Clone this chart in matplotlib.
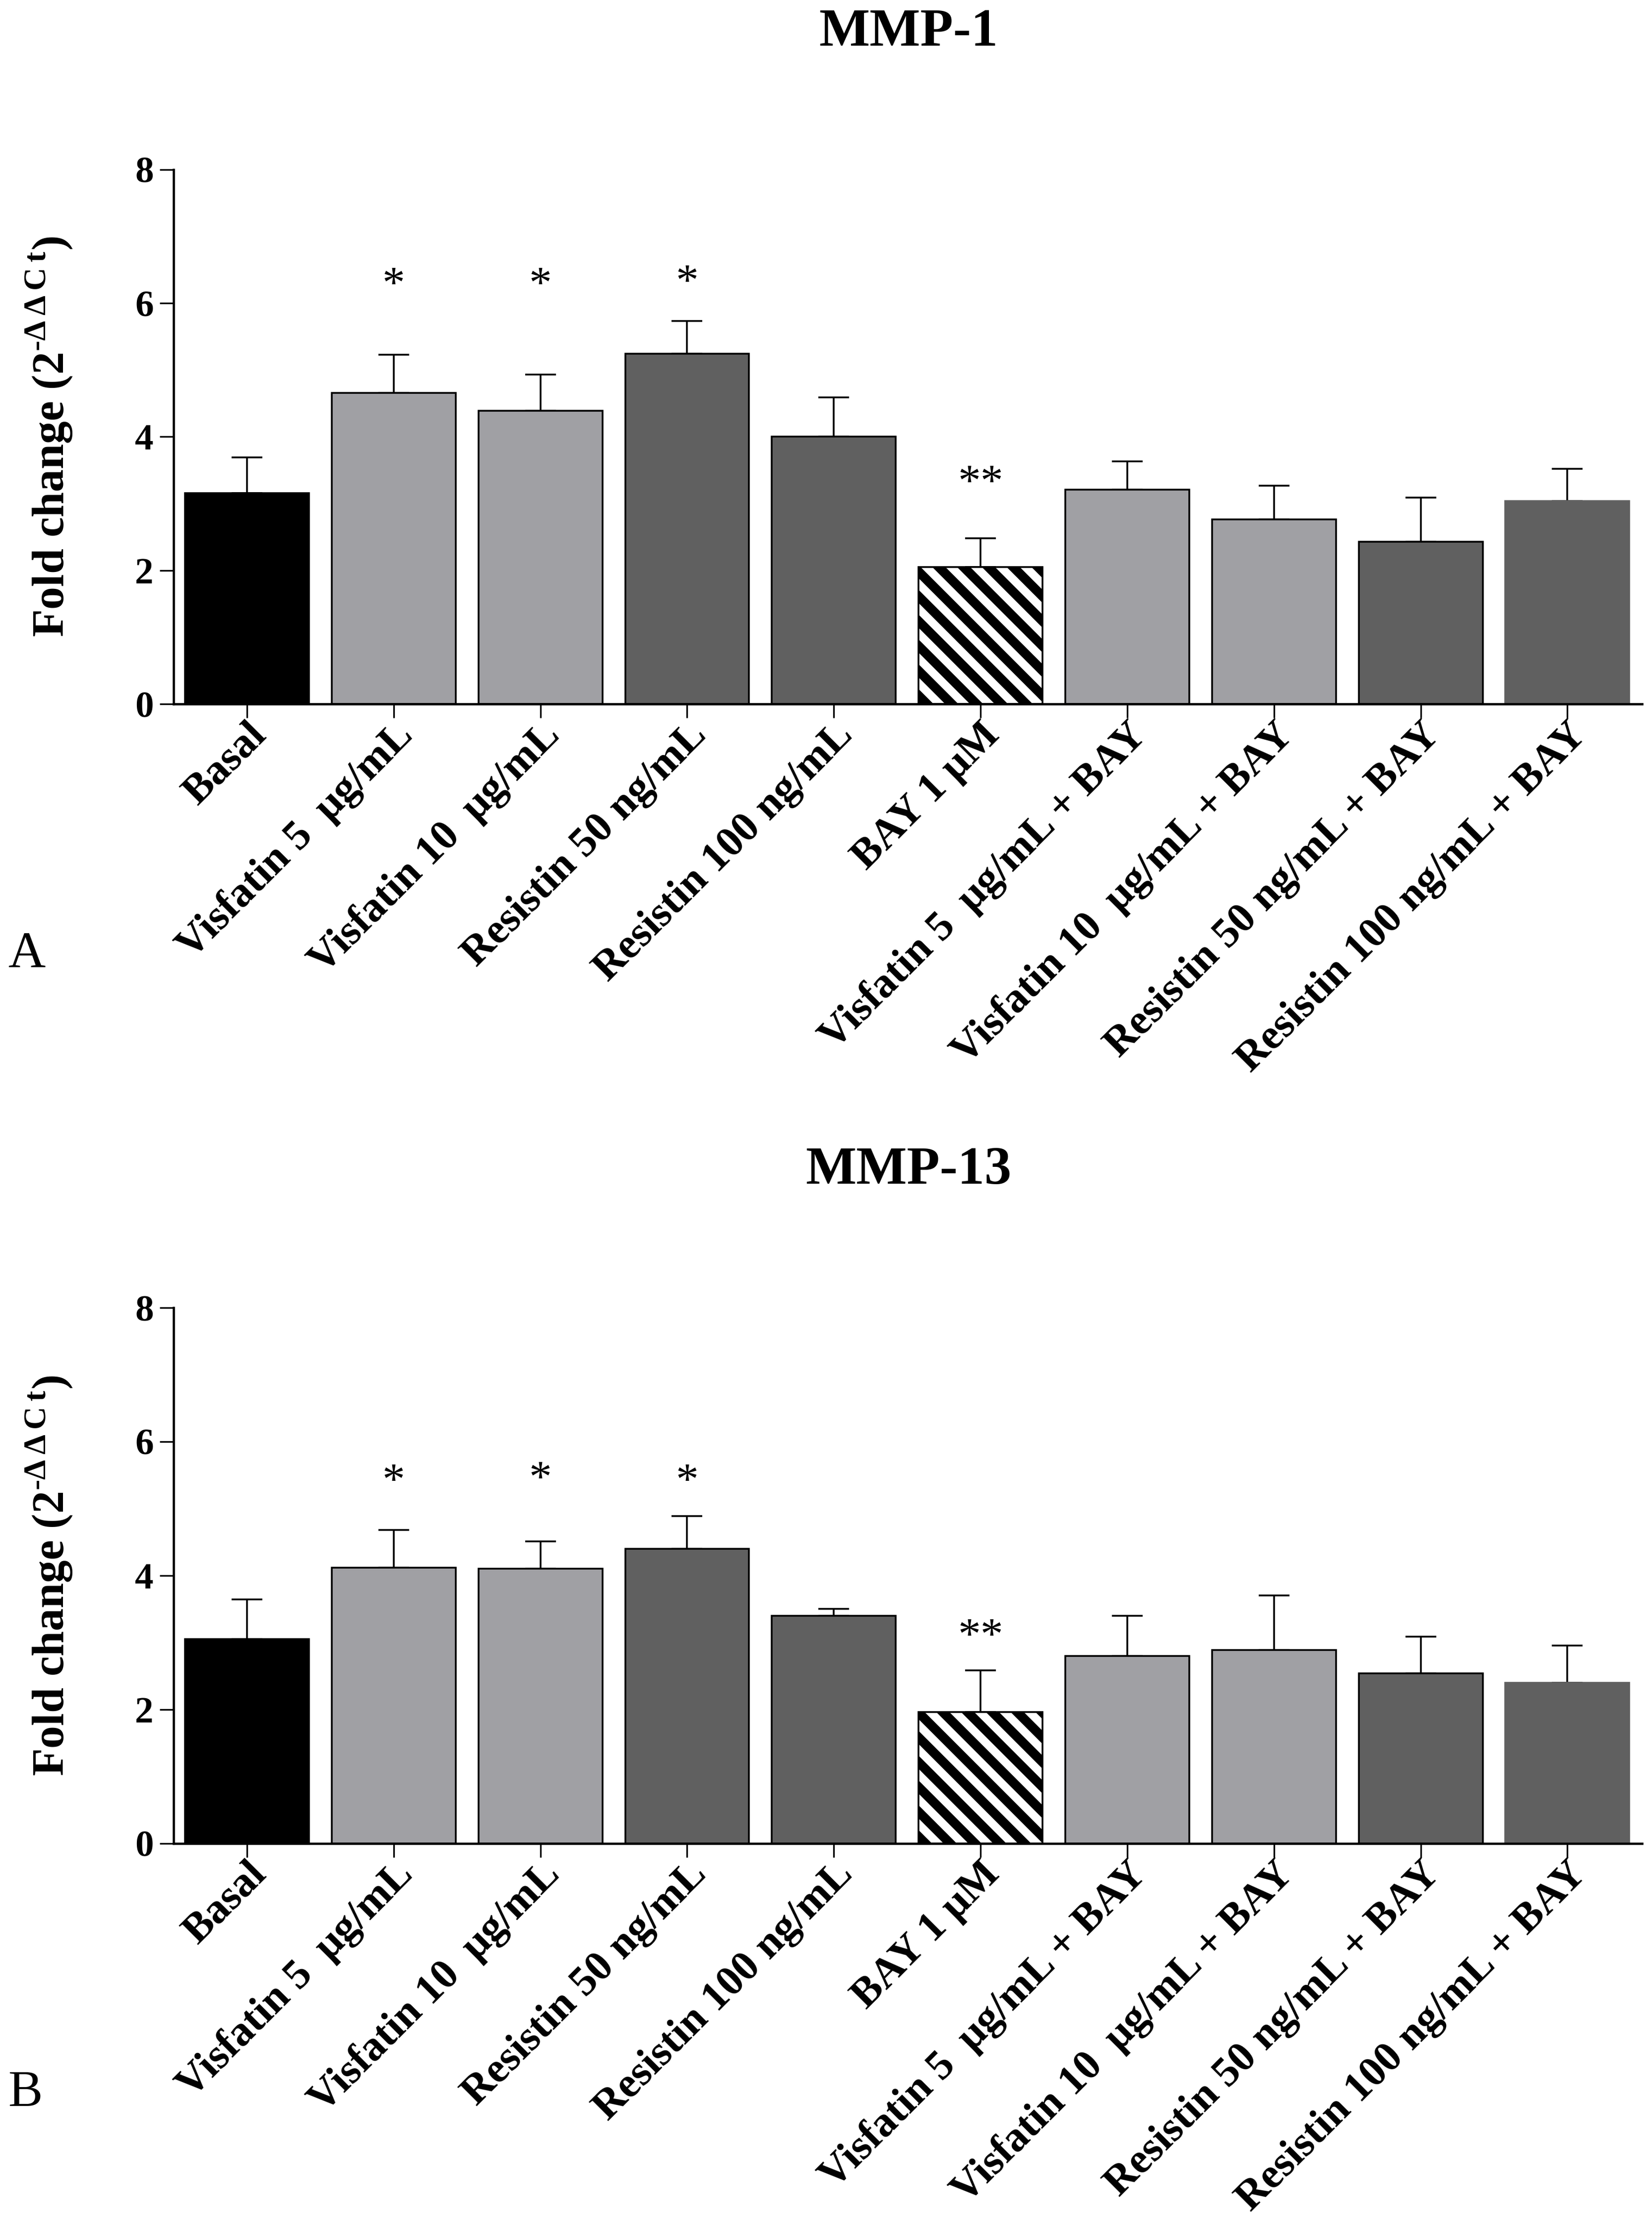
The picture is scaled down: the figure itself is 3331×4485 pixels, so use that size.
import numpy as np
import matplotlib
matplotlib.use('Agg')
import matplotlib.pyplot as plt

plt.rcParams['font.family'] = ['Liberation Serif', 'DejaVu Serif']
plt.rcParams['mathtext.fontset'] = 'custom'
plt.rcParams['mathtext.rm'] = 'Liberation Serif'
plt.rcParams['hatch.linewidth'] = 4.5
plt.rcParams['hatch.color'] = 'black'

labels = ['Basal', 'Visfatin 5  μg/mL', 'Visfatin 10  μg/mL', 'Resistin 50 ng/mL',
          'Resistin 100 ng/mL', 'BAY 1 μM', 'Visfatin 5  μg/mL + BAY',
          'Visfatin 10  μg/mL + BAY', 'Resistin 50 ng/mL + BAY',
          'Resistin 100 ng/mL + BAY']

# MMP-1 fold change (mean, SEM)
mmp1_mean = [3.16, 4.66, 4.39, 5.24, 4.00, 2.05, 3.21, 2.76, 2.43, 3.04]
mmp1_sem = [0.53, 0.57, 0.54, 0.49, 0.59, 0.43, 0.42, 0.51, 0.66, 0.48]
mmp1_sig = ['', '*', '*', '*', '', '**', '', '', '', '']
mmp1_sig_y = [0, 6.08, 6.08, 6.12, 0, 3.12, 0, 0, 0, 0]

# MMP-13 fold change (mean, SEM)
mmp13_mean = [3.05, 4.12, 4.10, 4.40, 3.40, 1.96, 2.80, 2.89, 2.54, 2.40]
mmp13_sem = [0.59, 0.56, 0.41, 0.49, 0.10, 0.62, 0.60, 0.81, 0.55, 0.55]
mmp13_sig = ['', '*', '*', '*', '', '**', '', '', '', '']
mmp13_sig_y = [0, 5.21, 5.25, 5.21, 0, 2.90, 0, 0, 0, 0]

black = '#000000'
light = '#a0a0a4'
dark = '#606060'
colors = [black, light, light, dark, dark, 'white', light, light, dark, dark]
hatches = ['', '', '', '', '', '\\\\', '', '', '', '']
edges = ['black'] * 9 + [dark]

ylab = 'Fold change (2$^{\\mathregular{\u2010Δ\\,Δ\\,C\\,t}}$)'

fig = plt.figure(figsize=(3331 / 300, 4485 / 300), dpi=300)


def panel(rect, mean, sem, sig, sig_y, title, title_y, letter, letter_y):
    ax = fig.add_axes(rect)
    x = np.arange(len(labels))
    ax.bar(x, mean, width=0.845, color=colors, edgecolor=edges,
           hatch=hatches, linewidth=0.85, zorder=2)
    ax.errorbar(x, mean, yerr=[np.zeros(len(sem)), sem], fmt='none',
                ecolor='black', elinewidth=0.85, capsize=7.4, capthick=0.85,
                zorder=1)
    for i, s in enumerate(sig):
        if s:
            ax.text(i, sig_y[i], s, ha='center', va='baseline', fontsize=22)
    ax.set_xlim(-0.5, 9.51)
    ax.set_ylim(0, 8)
    ax.set_yticks([0, 2, 4, 6, 8])
    ax.set_xticks(x)
    ax.set_xticklabels(labels, rotation=45, ha='right', va='top',
                       rotation_mode='anchor', fontsize=20.5,
                       fontweight='bold')
    for t in ax.get_yticklabels():
        t.set_fontsize(18)
        t.set_fontweight('bold')
    ax.tick_params(axis='both', direction='out', length=6.7, width=0.8,
                   color='black')
    ax.tick_params(axis='y', pad=3)
    ax.tick_params(axis='x', pad=-1)
    ax.spines['top'].set_visible(False)
    ax.spines['right'].set_visible(False)
    ax.spines['left'].set_linewidth(1.1)
    ax.spines['bottom'].set_linewidth(1.1)
    ax.set_ylabel(ylab, fontsize=22, fontweight='bold')
    ax.yaxis.set_label_coords(-0.0675, 0.5)
    fig.text(0.55, title_y, title, ha='center', va='baseline',
             fontsize=26, fontweight='bold')
    fig.text(0.005, letter_y, letter, ha='left', va='baseline', fontsize=25)
    return ax


panel([0.1051, 0.6836, 0.889, 0.2402], mmp1_mean, mmp1_sem, mmp1_sig,
      mmp1_sig_y, 'MMP-1', 0.9795, 'A', 0.5654)
panel([0.1051, 0.17157, 0.889, 0.24069], mmp13_mean, mmp13_sem, mmp13_sig,
      mmp13_sig_y, 'MMP-13', 0.468, 'B', 0.0535)

fig.savefig('out.png', dpi=300)
